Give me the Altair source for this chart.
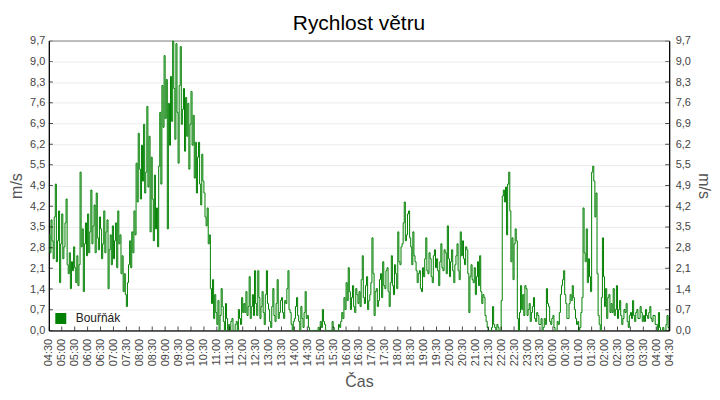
import json
import altair as alt
import pandas as pd

TITLE = "Rychlost větru"
SERIES = "Bouřňák"
Y_TITLE = "m/s"
X_TITLE = "Čas"
STEP_MIN = 2.5
Y_MAX = 9.7
Y_LABELS = ["0,0", "0,7", "1,4", "2,1", "2,8", "3,5", "4,2", "4,9",
            "5,5", "6,2", "6,9", "7,6", "8,3", "9,0", "9,7"]
X_LABELS = ["04:30", "05:00", "05:30", "06:00", "06:30", "07:00", "07:30", "08:00",
            "08:30", "09:00", "09:30", "10:00", "10:30", "11:00", "11:30", "12:00",
            "12:30", "13:00", "13:30", "14:00", "14:30", "15:00", "15:30", "16:00",
            "16:30", "17:00", "17:30", "18:00", "18:30", "19:00", "19:30", "20:00",
            "20:30", "21:00", "21:30", "22:00", "22:30", "23:00", "23:30", "00:00",
            "00:30", "01:00", "01:30", "02:00", "02:30", "03:00", "03:30", "04:00",
            "04:30"]

# wind speed (m/s), 2.5-minute samples from 04:30 to 04:30, one row per hour
WIND = [
    3.2, 2.6, 3.7, 3.0, 2.4, 3.8, 4.9, 2.3, 3.0, 4.0, 1.6, 2.9, 3.9, 2.4, 2.8, 3.6, 4.4, 2.2, 1.9, 2.6, 1.4, 2.3, 2.0, 2.8,
    2.1, 1.6, 2.5, 1.5, 2.2, 5.3, 2.8, 3.4, 1.3, 2.9, 3.6, 2.5, 3.9, 2.6, 3.3, 4.7, 2.9, 3.5, 4.2, 2.6, 4.6, 3.1, 2.7, 3.8,
    3.4, 2.4, 2.9, 4.0, 2.6, 3.3, 3.7, 1.4, 2.7, 3.2, 2.2, 3.5, 2.4, 3.0, 3.6, 2.1, 4.0, 2.9, 3.2, 1.9, 2.5, 1.3, 1.9, 1.2,
    0.8, 1.6, 2.2, 3.0, 2.1, 3.3, 2.6, 4.0, 3.2, 5.6, 4.3, 6.6, 5.4, 4.4, 6.2, 5.0, 6.9, 4.6, 5.3, 7.5, 4.8, 6.5, 3.3, 5.8,
    4.4, 3.0, 5.2, 3.4, 4.1, 2.8, 5.5, 7.3, 4.9, 8.2, 6.8, 9.2, 7.1, 8.4, 3.4, 7.6, 6.2, 8.5, 7.0, 9.7, 8.1, 6.4, 9.6, 7.3,
    5.6, 8.2, 9.5, 6.9, 7.4, 8.1, 6.0, 7.8, 6.5, 7.6, 5.4, 6.9, 8.0, 6.2, 7.2, 5.1, 6.3, 4.6, 5.8, 6.3, 4.9, 4.2, 5.9, 5.0,
    4.6, 3.8, 3.5, 4.1, 2.9, 3.2, 1.4, 0.9, 1.7, 0.4, 1.2, 0.6, 0.2, 1.0, 0.0, 0.5, 1.4, 0.8, 0.3, 0.0, 0.9, 0.4, 0.0, 0.2,
    0.0, 0.3, 0.4, 0.0, 0.0, 0.2, 0.3, 0.0, 0.7, 0.4, 0.2, 1.1, 0.6, 0.9, 0.6, 1.3, 0.5, 0.8, 1.8, 0.4, 0.8, 1.2, 0.5, 2.0,
    0.9, 0.5, 2.0, 1.1, 0.4, 0.8, 1.3, 0.6, 0.2, 1.2, 2.0, 0.9, 0.7, 0.3, 0.1, 0.8, 1.4, 0.5, 0.3, 0.9, 1.7, 0.4, 0.6, 1.0,
    1.1, 0.6, 0.4, 1.0, 0.9, 1.4, 2.0, 0.7, 0.6, 0.2, 0.0, 0.3, 0.4, 0.8, 1.1, 0.5, 0.3, 0.0, 0.8, 0.4, 0.1, 0.6, 1.3, 0.4,
    0.5, 0.1, 0.0, 0.0, 0.0, 0.0, 0.0, 0.0, 0.0, 0.0, 0.1, 0.0, 0.3, 0.1, 0.7, 0.3, 0.2, 0.0, 0.0, 0.0, 0.0, 0.0, 0.0, 0.3,
    0.1, 0.0, 0.0, 0.0, 0.0, 0.2, 0.1, 0.3, 0.6, 0.4, 1.1, 0.7, 1.6, 1.0, 2.1, 1.3, 0.7, 1.1, 1.5, 0.8, 0.6, 1.4, 1.2, 0.9,
    1.3, 0.8, 1.7, 2.5, 1.1, 0.9, 1.5, 1.8, 0.7, 1.0, 1.2, 1.6, 3.1, 1.9, 0.5, 1.3, 1.4, 0.8, 1.0, 1.7, 1.9, 1.1, 2.3, 1.5,
    1.4, 2.0, 2.1, 1.3, 0.8, 1.6, 2.5, 1.5, 1.2, 2.2, 1.9, 1.4, 3.3, 2.3, 2.2, 2.8, 2.9, 3.6, 4.3, 3.0, 3.2, 3.9, 4.0, 3.1,
    2.8, 2.2, 3.3, 2.5, 2.3, 2.0, 1.6, 1.9, 2.0, 1.4, 1.3, 2.1, 1.8, 2.4, 3.1, 2.0, 1.9, 2.6, 2.4, 1.8, 1.6, 2.5, 2.7, 2.1,
    2.4, 2.0, 1.5, 2.3, 2.9, 2.1, 2.0, 2.7, 2.6, 1.9, 3.5, 2.4, 1.8, 2.3, 2.7, 2.0, 1.6, 2.2, 2.5, 2.9, 2.0, 1.7, 3.3, 2.5,
    3.0, 2.4, 2.2, 2.8, 2.7, 1.9, 0.6, 1.8, 2.2, 1.7, 1.6, 2.1, 1.2, 1.8, 2.3, 1.5, 2.5, 1.3, 0.9, 1.2, 1.1, 0.5, 0.3, 0.1,
    0.0, 0.0, 0.0, 0.1, 0.8, 0.2, 0.1, 0.0, 0.2, 0.1, 0.0, 0.0, 1.0, 4.5, 4.7, 4.3, 4.8, 3.2, 4.9, 5.3, 4.0, 2.3, 3.1, 1.7,
    2.9, 3.4, 3.0, 0.4, 0.0, 0.6, 1.5, 0.7, 1.2, 0.5, 1.5, 1.4, 0.5, 0.7, 0.9, 0.3, 0.6, 0.8, 1.1, 0.4, 0.3, 0.6, 0.5, 0.2,
    0.2, 0.4, 0.0, 0.1, 0.4, 0.2, 1.4, 0.9, 0.8, 0.3, 0.2, 0.4, 0.5, 0.1, 0.0, 0.0, 0.3, 0.2, 0.6, 1.2, 1.5, 1.7, 2.0, 1.2,
    0.9, 0.4, 0.4, 0.9, 1.2, 1.0, 1.5, 1.1, 0.7, 0.4, 0.2, 0.3, 0.0, 0.1, 0.6, 1.1, 4.1, 2.6, 2.3, 3.4, 1.6, 2.4, 1.8, 1.3,
    5.3, 5.5, 5.0, 3.8, 4.6, 1.9, 0.5, 0.2, 0.0, 1.1, 3.1, 1.8, 0.8, 1.4, 0.4, 1.1, 1.2, 0.6, 0.9, 0.6, 1.4, 0.5, 0.7, 1.5,
    0.4, 0.7, 1.0, 0.5, 0.2, 0.4, 0.7, 0.6, 0.9, 0.3, 0.1, 0.5, 0.6, 0.4, 1.0, 0.5, 0.3, 0.6, 0.7, 0.4, 0.4, 0.8, 0.6, 0.3,
    0.5, 0.3, 0.7, 0.5, 0.4, 0.6, 0.8, 0.4, 0.3, 0.5, 0.5, 0.2, 0.2, 0.0, 0.6, 0.1, 0.0, 0.0, 0.1, 0.0, 0.0, 0.2, 0.5, 0.1,
    0.0,
]

GREEN = "#008000"
FONT = "Liberation Sans"

minutes = [i * STEP_MIN for i in range(len(WIND))]
df = pd.DataFrame({"min": minutes, "v": WIND, "s": [SERIES] * len(WIND)})

x_ticks = [i * 30 for i in range(len(X_LABELS))]
n_y = len(Y_LABELS) - 1
y_ticks = [i * Y_MAX / n_y for i in range(len(Y_LABELS))]
x_end = x_ticks[-1]

xlab_expr = json.dumps(X_LABELS) + "[round(datum.value / 30)]"
ylab_expr = json.dumps(Y_LABELS) + f"[round(datum.value * {n_y} / {Y_MAX})]"

xscale = alt.Scale(domain=[0, x_end], nice=False, zero=False)
yscale = alt.Scale(domain=[0, Y_MAX], nice=False, zero=True)

x_axis = alt.Axis(values=x_ticks, labelExpr=xlab_expr, labelAngle=270,
                  title=X_TITLE, grid=False, ticks=False, tickSize=0,
                  labelPadding=8, titlePadding=8, labelOverlap=False)

line = alt.Chart(df).mark_line(strokeWidth=1, interpolate="step-after", clip=True).encode(
    x=alt.X("min:Q", scale=xscale, axis=x_axis),
    y=alt.Y("v:Q", scale=yscale,
            axis=alt.Axis(values=y_ticks, labelExpr=ylab_expr, title=Y_TITLE,
                          orient="left", grid=True, ticks=False, tickSize=0,
                          labelPadding=4, titlePadding=5, labelOverlap=False)),
    color=alt.Color("s:N", scale=alt.Scale(range=[GREEN]),
                    legend=alt.Legend(title=None, orient="bottom-left", offset=6,
                                      padding=0, symbolType="square", symbolSize=121,
                                      symbolFillColor=GREEN, symbolStrokeColor=GREEN,
                                      symbolStrokeWidth=0, labelFontSize=12,
                                      labelColor="#222", labelFont=FONT,
                                      labelOffset=9)),
)

right = alt.Chart(df).mark_line(opacity=0).encode(
    x=alt.X("min:Q", scale=xscale, axis=x_axis),
    y=alt.Y("v:Q", scale=yscale,
            axis=alt.Axis(values=y_ticks, labelExpr=ylab_expr, title=Y_TITLE,
                          orient="right", grid=False, ticks=False, tickSize=0,
                          labelPadding=6, titlePadding=5, labelOverlap=False)),
)

xt_df = pd.DataFrame({"min": x_ticks})
xtick = alt.Chart(xt_df).mark_tick(orient="vertical", size=8, thickness=1,
                                   color="black", clip=True).encode(
    x=alt.X("min:Q", scale=xscale, axis=x_axis),
    y=alt.YDatum(0, axis=None),
)

yt_df = pd.DataFrame({"v": y_ticks})
ytick_l = alt.Chart(yt_df).mark_tick(orient="horizontal", size=8, thickness=1,
                                     color="black", clip=True).encode(
    x=alt.XDatum(0, axis=x_axis),
    y=alt.Y("v:Q", scale=yscale, axis=None),
)
ytick_r = alt.Chart(yt_df).mark_tick(orient="horizontal", size=8, thickness=1,
                                     color="black", clip=True).encode(
    x=alt.XDatum(x_end, axis=x_axis),
    y=alt.Y("v:Q", scale=yscale, axis=None),
)

chart = alt.layer(line, right, xtick, ytick_l, ytick_r).resolve_axis(
    y="independent"
).properties(
    width=623, height=291,
    padding={"left": 0, "top": 4, "right": 0, "bottom": 0},
    title=alt.TitleParams(TITLE, font=FONT, fontSize=21, fontWeight="normal",
                          color="black", offset=1, anchor="middle"),
).configure_view(
    stroke="black", strokeWidth=1
).configure_axis(
    labelFont=FONT, labelFontSize=11, labelColor="#444",
    titleFont=FONT, titleFontSize=16, titleColor="#555", titleFontWeight="normal",
    domainColor="black", domainWidth=1, gridColor="#ebebeb", gridWidth=1,
)

chart.save("out.html", embed_options={"renderer": "svg", "actions": False})
